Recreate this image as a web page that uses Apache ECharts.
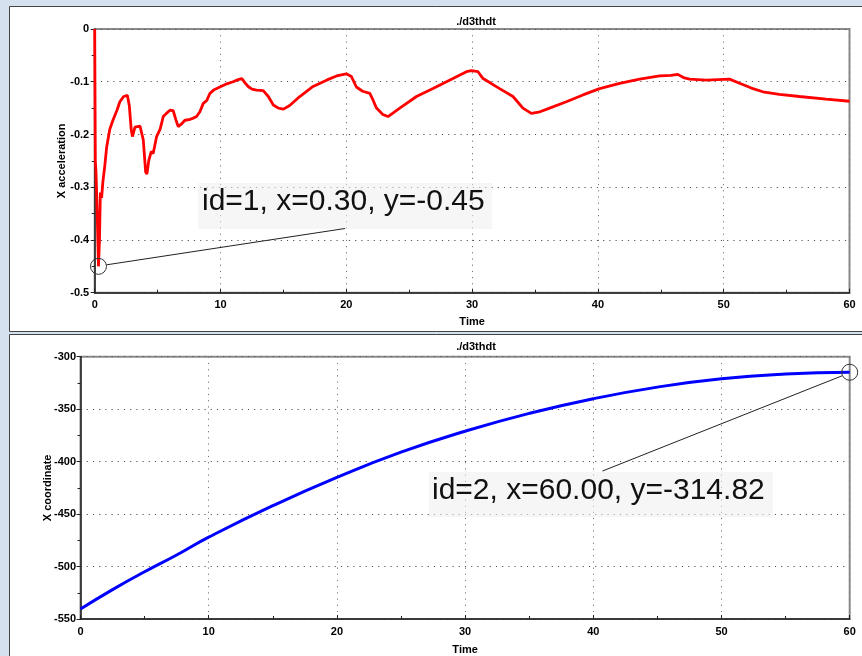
<!DOCTYPE html>
<html>
<head>
<meta charset="utf-8">
<script src="https://cdn.jsdelivr.net/npm/echarts@6/dist/echarts.min.js"></script>
<style>
html,body{margin:0;padding:0;background:#d5e1ef;}
#c{width:862px;height:656px;}
</style>
</head>
<body>
<div id="c"></div>
<script>
var chartTitle = './d3thdt';
var xAxisName = 'Time';
var topYName = 'X acceleration';
var bottomYName = 'X coordinate';

var accelTime = [0,0.02,0.05,0.1,0.2,0.3,0.38,0.45,0.55,0.65,0.8,0.95,1.2,1.45,1.77,2.0,2.3,2.6,2.75,2.9,3.0,3.2,3.6,3.86,4.05,4.15,4.3,4.5,4.65,4.92,5.2,5.45,5.7,5.98,6.24,6.45,6.64,6.9,7.17,7.5,7.83,8.1,8.36,8.63,8.9,9.16,9.5,9.95,10.5,11.0,11.4,11.7,11.95,12.2,12.5,12.87,13.4,13.8,14.2,14.6,15.0,15.5,16.3,17.36,18.43,19.22,20.0,20.4,20.8,21.3,21.87,22.13,22.4,22.9,23.32,24.25,25.58,26.89,28.48,29.55,29.94,30.47,30.87,31.5,32.19,33.25,34.04,34.71,35.4,36.16,37.49,38.81,40.14,41.73,43.32,44.91,45.8,46.35,46.8,47.28,48.61,50.46,51.26,52.2,53.11,54.43,56.02,58.14,60];
var accelValue = [0,-0.1,-0.25,-0.27,-0.35,-0.45,-0.40,-0.31,-0.32,-0.29,-0.26,-0.224,-0.19,-0.173,-0.154,-0.138,-0.128,-0.126,-0.145,-0.19,-0.204,-0.186,-0.184,-0.21,-0.271,-0.275,-0.249,-0.232,-0.236,-0.204,-0.19,-0.166,-0.16,-0.154,-0.155,-0.172,-0.185,-0.18,-0.173,-0.172,-0.169,-0.166,-0.157,-0.141,-0.136,-0.122,-0.115,-0.11,-0.104,-0.1,-0.096,-0.094,-0.102,-0.109,-0.114,-0.116,-0.117,-0.128,-0.144,-0.15,-0.152,-0.145,-0.128,-0.109,-0.097,-0.089,-0.085,-0.09,-0.11,-0.118,-0.122,-0.135,-0.150,-0.162,-0.166,-0.150,-0.128,-0.113,-0.094,-0.081,-0.079,-0.081,-0.094,-0.103,-0.113,-0.128,-0.150,-0.160,-0.157,-0.150,-0.138,-0.125,-0.113,-0.103,-0.095,-0.089,-0.088,-0.086,-0.092,-0.095,-0.097,-0.095,-0.103,-0.112,-0.119,-0.124,-0.128,-0.133,-0.137];

var coordTime = [0,2.5,5,7.5,10,15,20,25,30,35,40,45,50,55,60];
var coordValue = [-540.5,-522,-505,-489,-472,-442,-415,-391,-371,-354,-340,-329,-321,-316.5,-314.82];

var note1 = {id:1, x:0.30, y:-0.45};
var note2 = {id:2, x:60.00, y:-314.82};

function zip(a,b){return a.map(function(v,i){return [v,b[i]];});}

var chart = echarts.init(document.getElementById('c'));
var lblFont = {color:'#000', fontFamily:'Liberation Sans, Arial, sans-serif', fontWeight:'bold', fontSize:11};

function xAx(gi, gap){
  return {type:'value', gridIndex:gi, min:0, max:60, interval:10,
    name:xAxisName, nameLocation:'middle', nameGap:gap, nameMoveOverlap:false,
    nameTextStyle:lblFont,
    axisLine:{show:true, onZero:false, lineStyle:{color:'#222', width:1.5}},
    axisTick:{show:true, length:4, inside:true, lineStyle:{color:'#222'}},
    minorTick:{show:true, splitNumber:2, length:3, lineStyle:{color:'#222'}},
    axisLabel:Object.assign({margin:7}, lblFont),
    splitLine:{show:true, lineStyle:{color:'#777', width:1, type:[1.2,5]}}
  };
}
function yAx(gi, mn, mx, iv, name, gap, lm){
  return {type:'value', gridIndex:gi, min:mn, max:mx, interval:iv,
    name:name, nameLocation:'middle', nameGap:gap, nameRotate:90, nameMoveOverlap:false,
    nameTextStyle:lblFont,
    axisLine:{show:true, onZero:false, lineStyle:{color:'#222', width:1.5}},
    axisTick:{show:true, length:4, lineStyle:{color:'#222'}},
    minorTick:{show:true, splitNumber:2, length:3, lineStyle:{color:'#222'}},
    axisLabel:Object.assign({margin:lm}, lblFont),
    splitLine:{show:true, lineStyle:{color:'#555', width:1, type:[1.2,5]}}
  };
}

var option = {
  backgroundColor:'#d5e1ef',
  animation:false,
  title:[
    {text:chartTitle, left:471, top:11, textAlign:'center', textStyle:lblFont},
    {text:chartTitle, left:471, top:336, textAlign:'center', textStyle:lblFont}
  ],
  grid:[
    {left:94.7, top:29, width:754.8, height:263.7, show:true, borderColor:'#8a8a8a', borderWidth:2, backgroundColor:'transparent'},
    {left:80.5, top:356.7, width:769.2, height:263.3, show:true, borderColor:'#8a8a8a', borderWidth:2, backgroundColor:'transparent'}
  ],
  xAxis:[xAx(0, 24), xAx(1, 25)],
  yAxis:[yAx(0, -0.5, 0, 0.1, topYName, 27, 5.5), yAx(1, -550, -300, 50, bottomYName, 27, 4.5)],
  series:[
    {type:'line', xAxisIndex:0, yAxisIndex:0, data:zip(accelTime, accelValue), showSymbol:false, symbol:'none',
     lineStyle:{color:'#ff0000', width:2.8}, z:5},
    {type:'line', xAxisIndex:1, yAxisIndex:1, data:zip(coordTime, coordValue), showSymbol:false, symbol:'none', smooth:true,
     lineStyle:{color:'#0000ff', width:3}, z:5}
  ]
};
chart.setOption(option);

function fmt(v,d){return v.toFixed(d);}
var p1 = chart.convertToPixel({gridIndex:0}, [note1.x, note1.y]);
var p2 = chart.convertToPixel({gridIndex:1}, [note2.x, note2.y]);
var graphics = [
  {type:'rect', z:-10, shape:{x:9.5, y:6.5, width:860, height:325}, style:{fill:'#fff', stroke:'#444', lineWidth:1}},
  {type:'rect', z:-10, shape:{x:9.5, y:334.5, width:860, height:330}, style:{fill:'#fff', stroke:'#444', lineWidth:1}},
  {type:'rect', z:1, shape:{x:198, y:183, width:294, height:46}, style:{fill:'rgba(238,238,238,0.55)'}},
  {type:'rect', z:1, shape:{x:429, y:472, width:344, height:45}, style:{fill:'rgba(238,238,238,0.55)'}},
  {type:'text', z:20, x:202, y:217, style:{text:'id='+note1.id+', x='+fmt(note1.x,2)+', y='+fmt(note1.y,2), font:'30px "Liberation Sans", Arial, sans-serif', fill:'#111', textVerticalAlign:'bottom'}},
  {type:'text', z:20, x:432, y:506, style:{text:'id='+note2.id+', x='+fmt(note2.x,2)+', y='+fmt(note2.y,2), font:'30px "Liberation Sans", Arial, sans-serif', fill:'#111', textVerticalAlign:'bottom'}},
  {type:'circle', z:20, shape:{cx:p1[0], cy:p1[1], r:8}, style:{fill:'none', stroke:'#333', lineWidth:1}},
  {type:'circle', z:20, shape:{cx:p2[0], cy:p2[1], r:8}, style:{fill:'none', stroke:'#333', lineWidth:1}},
  {type:'line', z:20, shape:{x1:p1[0]+8, y1:p1[1]-1.5, x2:345, y2:228.5}, style:{stroke:'#222', lineWidth:1}},
  {type:'line', z:20, shape:{x1:p2[0]-7.5, y1:p2[1]+3.5, x2:602.5, y2:471}, style:{stroke:'#222', lineWidth:1}}
];
chart.setOption({graphic:graphics});
</script>
</body>
</html>
